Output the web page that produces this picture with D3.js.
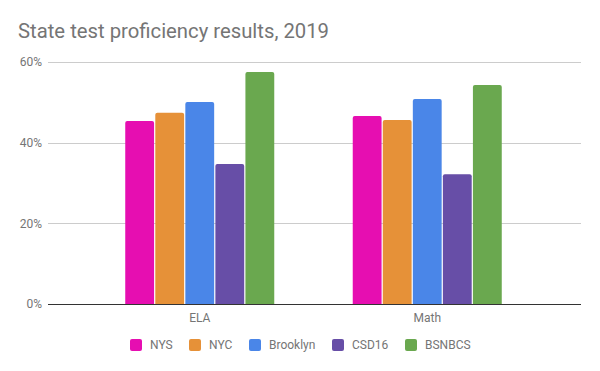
<!DOCTYPE html>
<html>
<head>
<meta charset="utf-8">
<script src="https://cdn.jsdelivr.net/npm/d3@7"></script>
<style>
  body { margin: 0; background: #fff; }
  text { font-family: Roboto, "Noto Sans", sans-serif; }
</style>
</head>
<body>
<div id="chart"></div>
<script>
const subjects = ['ELA', 'Math']
const groups = ['NYS', 'NYC', 'Brooklyn', 'CSD16', 'BSNBCS']
const nys = [45.4, 46.6]
const nyc = [47.4, 45.6]
const brooklyn = [50.1, 50.8]
const csd16 = [34.7, 32.2]
const bsnbcs = [57.5, 54.3]
const colors = ['#e60eb1', '#e69138', '#4a86e8', '#674ea7', '#6aa84f']
const yTicks = [0, 20, 40, 60]

const series = [nys, nyc, brooklyn, csd16, bsnbcs]
const width = 600, height = 371
const chart = {left: 48, right: 581, top: 62, bottom: 304}

const svg = d3.select('#chart').append('svg')
  .attr('width', width)
  .attr('height', height)

svg.append('text')
  .attr('x', 18)
  .attr('y', 38)
  .attr('fill', '#757575')
  .attr('font-size', 20.3)
  .text('State test proficiency results, 2019')

const y = d3.scaleLinear().domain([0, 60]).range([chart.bottom, chart.top])
const x0 = d3.scaleBand().domain(subjects).range([86, 541]).paddingInner(0.345).paddingOuter(0.1725)
const x1 = d3.scaleBand().domain(groups).range([0, x0.bandwidth()]).paddingInner(0.04)

// gridlines
svg.append('g')
  .selectAll('line')
  .data(yTicks.filter(d => d > 0))
  .enter()
    .append('line')
    .attr('x1', chart.left)
    .attr('x2', chart.right)
    .attr('y1', d => Math.round(y(d)) + 0.5)
    .attr('y2', d => Math.round(y(d)) + 0.5)
    .attr('stroke', '#cccccc')

// y labels
svg.append('g')
  .selectAll('text')
  .data(yTicks)
  .enter()
    .append('text')
    .attr('x', 42)
    .attr('y', d => y(d))
    .attr('dy', '0.35em')
    .attr('text-anchor', 'end')
    .attr('font-size', 12)
    .attr('fill', '#757575')
    .text(d => d + '%')

const data = _flatten()
function _flatten() {
  const out = []
  subjects.forEach((s, i) => {
    groups.forEach((g, j) => out.push({s: s, g: g, v: series[j][i], c: colors[j]}))
  })
  return out
}

const r = 2
svg.append('g')
  .selectAll('path')
  .data(data)
  .enter()
    .append('path')
    .attr('fill', d => d.c)
    .attr('d', d => {
      const bx = x0(d.s) + x1(d.g)
      const bw = x1.bandwidth()
      const top = y(d.v)
      const bot = y(0)
      return `M${bx},${bot}V${top + r}Q${bx},${top} ${bx + r},${top}` +
        `H${bx + bw - r}Q${bx + bw},${top} ${bx + bw},${top + r}V${bot}Z`
    })

// baseline
svg.append('line')
  .attr('x1', chart.left)
  .attr('x2', chart.right)
  .attr('y1', Math.round(y(0)) + 0.5)
  .attr('y2', Math.round(y(0)) + 0.5)
  .attr('stroke', '#333333')

// x labels
svg.append('g')
  .selectAll('text')
  .data(subjects)
  .enter()
    .append('text')
    .attr('x', d => x0(d) + x0.bandwidth() / 2)
    .attr('y', 322)
    .attr('text-anchor', 'middle')
    .attr('font-size', 12)
    .attr('fill', '#757575')
    .text(d => d)

// legend
const legendX = [130, 189, 249, 332, 405]
const legend = svg.append('g')
  .selectAll('g')
  .data(groups)
  .enter()
    .append('g')
    .attr('transform', (d, i) => `translate(${legendX[i]},339)`)
legend.append('rect')
  .attr('width', 12)
  .attr('height', 12)
  .attr('rx', 2)
  .attr('fill', (d, i) => colors[i])
legend.append('text')
  .attr('x', 20)
  .attr('y', 6)
  .attr('dy', '0.35em')
  .attr('font-size', 12)
  .attr('fill', '#757575')
  .text(d => d)
</script>
</body>
</html>
